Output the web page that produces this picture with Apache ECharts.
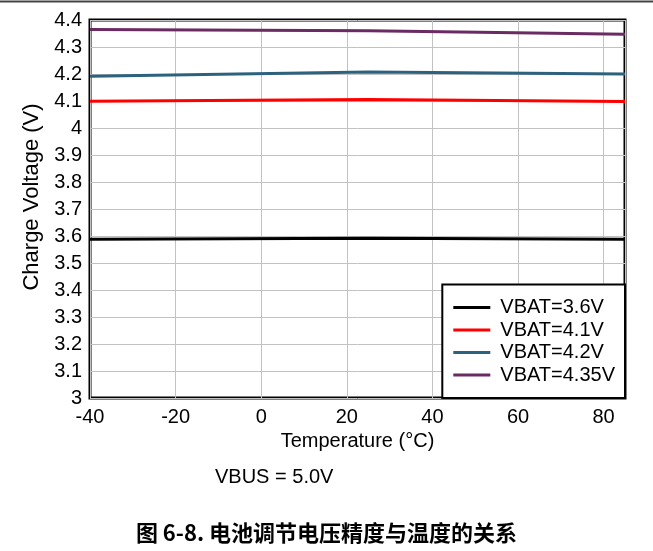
<!DOCTYPE html>
<html><head><meta charset="utf-8">
<script src="https://cdn.jsdelivr.net/npm/echarts@6/dist/echarts.min.js"></script>
<style>html,body{margin:0;padding:0;background:#fff}#c{width:653px;height:551px}</style>
</head><body><div id="c"></div>
<script>
const temps = [-40, 25, 85];
const vbat36 = [3.588, 3.592, 3.588];
const vbat41 = [4.099, 4.106, 4.098];
const vbat42 = [4.192, 4.207, 4.200];
const vbat435 = [4.365, 4.360, 4.347];
const seriesNames = ['VBAT=3.6V', 'VBAT=4.1V', 'VBAT=4.2V', 'VBAT=4.35V'];
const seriesColors = ['#000000', '#ff0000', '#2d627e', '#6a2a62'];
const allData = [vbat36, vbat41, vbat42, vbat435];

const chart = echarts.init(document.getElementById('c'));
const font = '"Liberation Sans", Arial, sans-serif';
chart.setOption({
  animation: false,
  grid: {left: 90, right: 28, top: 20, bottom: 153, show: true, borderColor: '#000', borderWidth: 3, backgroundColor: 'transparent'},
  xAxis: {
    type: 'value', min: -40, max: 85, interval: 20,
    name: 'Temperature (°C)', nameLocation: 'middle', nameGap: 33,
    nameTextStyle: {fontFamily: font, fontSize: 20, color: '#000'},
    axisLine: {show: false}, axisTick: {show: false},
    axisLabel: {fontFamily: font, fontSize: 20, color: '#000', margin: 9, showMaxLabel: false},
    splitLine: {show: true, lineStyle: {color: '#c2c2c2', width: 1}}
  },
  yAxis: {
    type: 'value', min: 3, max: 4.4, interval: 0.1,
    axisLine: {show: false}, axisTick: {show: false},
    axisLabel: {fontFamily: font, fontSize: 20, color: '#000', margin: 8},
    splitLine: {show: true, lineStyle: {color: '#c2c2c2', width: 1}}
  },
  legend: {
    orient: 'vertical', right: 28, bottom: 153,
    backgroundColor: '#fff', borderColor: '#000', borderWidth: 2,
    padding: [13, 10, 13, 11], itemGap: 2.5, itemWidth: 37, itemHeight: 3,
    icon: 'rect',
    textStyle: {fontFamily: font, fontSize: 20, color: '#000', padding: [0, 0, 0, 5]},
    data: seriesNames
  },
  series: allData.map((d, i) => ({
    name: seriesNames[i], type: 'line', showSymbol: false, symbol: 'none',
    data: temps.map((t, j) => [t, d[j]]),
    lineStyle: {color: seriesColors[i], width: 3},
    itemStyle: {color: seriesColors[i]}
  })),
  graphic: [
    {type: 'line', shape: {x1: 0, y1: 1.5, x2: 653, y2: 1.5}, style: {stroke: '#444', lineWidth: 2}},
    {type: 'text', x: 32, y: 197, rotation: Math.PI / 2,
     style: {text: 'Charge Voltage (V)', font: '22px ' + font, fill: '#000', align: 'center', verticalAlign: 'middle'}},
    {type: 'text', left: 215, top: 467, style: {text: 'VBUS = 5.0V', font: '20px ' + font, fill: '#000'}},
    {type: 'text', left: 'center', top: 522, style: {text: '图 6-8. 电池调节电压精度与温度的关系', font: 'bold 22px "Noto Sans CJK SC", sans-serif', fill: '#000'}}
  ]
});
</script></body></html>
